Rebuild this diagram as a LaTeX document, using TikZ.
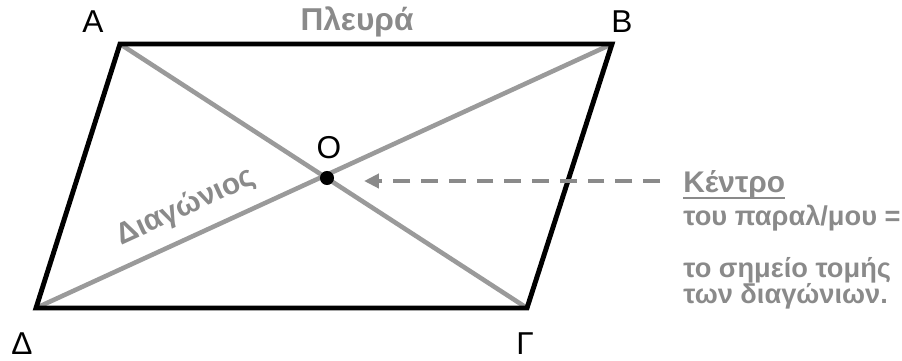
\documentclass[tikz,border=0pt]{standalone}
\usepackage{fontspec}
\setmainfont{Liberation Sans}
\usetikzlibrary{arrows.meta, positioning, calc}
\definecolor{edgeblack}{HTML}{000000}
\definecolor{diaggray}{HTML}{9A9A9A}
\definecolor{txtgray}{HTML}{8A8A8A}

\begin{document}
\begin{tikzpicture}[x=0.02cm, y=-0.02cm,
  vertex/.style={font=\fontsize{18}{21}\selectfont, text=black},
  graytxt/.style={font=\fontsize{18}{21}\selectfont\bfseries, text=txtgray},
  notetxt/.style={font=\fontsize{15.5}{18}\selectfont\bfseries, text=txtgray, anchor=base west, inner sep=0pt},
  >={Triangle[length=8.5pt, width=8pt]}]

% Canvas
\useasboundingbox (0,0) rectangle (902,360);

% Corners of the parallelogram
\coordinate (A) at (120,44);
\coordinate (B) at (612,44);
\coordinate (G) at (527,308);
\coordinate (D) at (36,308);
\coordinate (O) at (327,178);

% Diagonals
\draw[diaggray, line width=2.6pt] (A) -- (G);
\draw[diaggray, line width=2.6pt] (D) -- (B);

% Sides
\draw[edgeblack, line width=2.8pt, line join=miter] (A) -- (B) -- (G) -- (D) -- cycle;

% Centre point
\fill[black] (O) circle (4pt);

% Vertex labels
\node[vertex] (labA) at (93,22) {Α};
\node[vertex] (labB) at (622,22) {Β};
\node[vertex] (labG) at (525,344) {Γ};
\node[vertex] (labD) at (22,344) {Δ};
\node[vertex] (labO) at (329,148) {Ο};

% Side and diagonal names
\node[graytxt] (side) at (357,22) {Πλευρά};
\node[graytxt, font=\fontsize{17}{20}\selectfont\bfseries, rotate=24.6] (diag) at (186,207) {Διαγώνιος};

% Note on the right
\node[notetxt, font=\fontsize{17}{20}\selectfont\bfseries] (title) at (683,192) {Κέντρο};
\draw[txtgray, line width=1.3pt] ($(title.base west)+(0,6)$) -- ($(title.base east)+(0,6)$);
\node[notetxt] (line1) at (683,225) {του παραλ/μου =};
\node[notetxt] (line2) at (683,277) {το σημείο τομής};
\node[notetxt] (line3) at (683,303) {των διαγώνιων.};

% Dashed pointer to O
\coordinate (tail) at (660,181);
\coordinate (tip) at (364,181);
\draw[txtgray, line width=2.3pt, dash pattern=on 9.6pt off 6.2pt, ->] (tail) -- (tip);

\end{tikzpicture}
\end{document}
